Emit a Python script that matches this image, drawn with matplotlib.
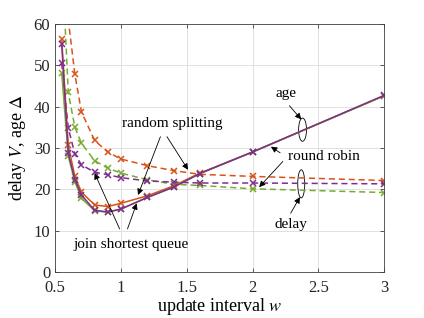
import matplotlib
matplotlib.use("Agg")
import matplotlib.pyplot as plt
from matplotlib.patches import Ellipse

plt.rcParams['font.family'] = ['Liberation Serif', 'DejaVu Serif']
plt.rcParams['mathtext.fontset'] = 'stix'

# update interval w
w = [0.55, 0.6, 0.65, 0.7, 0.8, 0.9, 1.0, 1.2, 1.4, 1.6, 2.0, 3.0]

# age (solid)
age_random = [56.4, 30.6, 23.1, 19.3, 16.2, 15.8, 16.6, 18.4, 20.8, 23.9, 29.0, 42.6]
age_robin = [48.1, 28.0, 21.8, 17.8, 14.8, 14.4, 15.2, 18.0, 20.5, 23.8, 29.0, 42.6]
age_jsq = [55.1, 28.7, 22.3, 18.6, 14.9, 14.5, 15.2, 18.0, 20.5, 23.8, 29.0, 42.7]

# delay (dashed)
delay_random = [90.0, 61.0, 47.8, 38.7, 31.8, 29.0, 27.3, 25.7, 24.5, 23.6, 23.1, 22.1]
delay_robin = [77.0, 43.4, 35.0, 31.1, 26.9, 25.1, 23.9, 22.3, 21.2, 20.9, 20.1, 19.2]
delay_jsq = [50.5, 34.8, 28.5, 25.9, 24.1, 23.5, 22.8, 22.0, 21.7, 21.5, 21.5, 21.3]

c_orange = '#D95319'
c_green = '#77AC30'
c_purple = '#7E2F8E'

fig = plt.figure(figsize=(4.24, 3.18), dpi=100)
ax = fig.add_axes([0.130, 0.145, 0.776, 0.780])

mk = dict(marker='x', markersize=4, markeredgewidth=1.1, linewidth=1.1)
ax.plot(w, delay_random, '--', color=c_orange, dashes=(4, 2.5), **mk)
ax.plot(w, delay_robin, '--', color=c_green, dashes=(4, 2.5), **mk)
ax.plot(w, delay_jsq, '--', color=c_purple, dashes=(4, 2.5), **mk)
ax.plot(w, age_random, '-', color=c_orange, **mk)
ax.plot(w, age_robin, '-', color=c_green, **mk)
ax.plot(w, age_jsq, '-', color=c_purple, **mk)

ax.set_xlim(0.5, 3)
ax.set_ylim(0, 60)
ax.set_xticks([0.5, 1, 1.5, 2, 2.5, 3])
ax.set_xticklabels(['0.5', '1', '1.5', '2', '2.5', '3'])
ax.set_yticks(range(0, 61, 10))
ax.grid(True, color='#dcdcdc', linewidth=0.6)
ax.set_axisbelow(True)
ax.tick_params(direction='in', length=3, top=True, right=True, labelsize=12,
               color='#404040', labelcolor='#262626', width=0.6)
ax.tick_params(axis='x', pad=6)
for s in ax.spines.values():
    s.set_color('#404040')
    s.set_linewidth(0.6)

ax.set_xlabel('update interval $w$', fontsize=13, labelpad=0)
ax.set_ylabel('delay $V$, age $\\Delta$', fontsize=13, labelpad=4)

arr = dict(arrowstyle='-|>', color='k', lw=0.6, mutation_scale=9, shrinkA=0, shrinkB=0)
ax.text(1.39, 36.0, 'random splitting', fontsize=11, ha='center', va='center')
ax.annotate('', xy=(1.13, 18.6), xytext=(1.30, 32.7), arrowprops=arr)
ax.annotate('', xy=(1.51, 24.7), xytext=(1.35, 32.7), arrowprops=arr)

ax.text(1.08, 6.7, 'join shortest queue', fontsize=11, ha='center', va='center')
ax.annotate('', xy=(0.80, 23.9), xytext=(0.99, 10.4), arrowprops=arr)
ax.annotate('', xy=(1.12, 16.6), xytext=(1.05, 10.4), arrowprops=arr)

ax.text(2.255, 43.2, 'age', fontsize=11, ha='center', va='center')
ax.annotate('', xy=(2.37, 36.9), xytext=(2.28, 40.2), arrowprops=arr)
ax.add_patch(Ellipse((2.38, 34.4), 0.06, 5.6, fill=False, color='k', lw=0.6))

ax.text(2.54, 27.9, 'round robin', fontsize=11, ha='center', va='center')
ax.annotate('', xy=(2.14, 30.3), xytext=(2.21, 28.8), arrowprops=arr)
ax.annotate('', xy=(2.05, 20.5), xytext=(2.23, 26.7), arrowprops=arr)

ax.text(2.29, 11.4, 'delay', fontsize=11, ha='center', va='center')
ax.annotate('', xy=(2.36, 18.1), xytext=(2.29, 14.2), arrowprops=arr)
ax.add_patch(Ellipse((2.37, 21.3), 0.053, 6.8, fill=False, color='k', lw=0.6))

fig.savefig('out.png', dpi=100)
